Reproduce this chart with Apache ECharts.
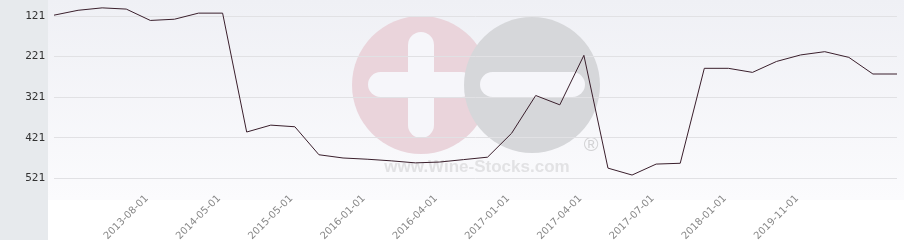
<!DOCTYPE html>
<html>
<head>
<meta charset="utf-8">
<script src="https://cdn.jsdelivr.net/npm/echarts@6/dist/echarts.min.js"></script>
<style>
html,body{margin:0;padding:0;background:#ffffff;}
#chart{width:904px;height:240px;}
</style>
</head>
<body>
<div id="chart"></div>
<script>
// x-axis tick labels (one per point, empty where the reference shows none)
const tickLabels = ['', '', '', '', '2013-08-01', '', '', '2014-05-01', '', '', '2015-05-01', '', '',
  '2016-01-01', '', '', '2016-04-01', '', '', '2017-01-01', '', '', '2017-04-01', '', '',
  '2017-07-01', '', '', '2018-01-01', '', '', '2019-11-01', '', '', '', ''];
const categories = tickLabels;
// rank values (smaller is better, axis inverted)
const rankValues = [119, 107, 101, 104, 132, 129, 114, 114, 407, 390, 394, 463, 471, 474, 478, 483,
  481, 475, 469, 410, 317, 340, 218, 496, 513, 486, 484, 250, 250, 260, 233, 217, 209, 223, 264, 264];
const yTickValues = [121, 221, 321, 421, 521];

const chart = echarts.init(document.getElementById('chart'), null, {renderer: 'canvas'});
const option = {
  animation: false,
  backgroundColor: '#ffffff',
  grid: {left: 54, right: 7, top: -24.6, bottom: 53.6, containLabel: false, outerBoundsMode: 'none'},
  graphic: [
    {type: 'rect', z: -20, shape: {x: 0, y: 0, width: 48, height: 240}, style: {fill: '#e7eaed'}},
    {type: 'rect', z: -20, shape: {x: 48, y: 0, width: 856, height: 200},
      style: {fill: new echarts.graphic.LinearGradient(0, 0, 0, 1, [
        {offset: 0, color: '#eff0f5'}, {offset: 1, color: '#fbfbfd'}])}},
    {type: 'circle', z: -10, shape: {cx: 421, cy: 85, r: 69}, style: {fill: '#ead4db'}},
    {type: 'rect', z: -9, shape: {x: 408, y: 32, width: 26, height: 106, r: 13}, style: {fill: '#f6f6fa'}},
    {type: 'rect', z: -9, shape: {x: 368, y: 72, width: 106, height: 25, r: 12.5}, style: {fill: '#f6f6fa'}},
    {type: 'circle', z: -8, shape: {cx: 532, cy: 85, r: 68}, style: {fill: '#d6d7da'}},
    {type: 'rect', z: -7, shape: {x: 480, y: 72, width: 105, height: 25, r: 12.5}, style: {fill: '#f6f6fa'}},
    {type: 'text', z: -7, style: {x: 477, y: 167, text: 'www.Wine-Stocks.com', fill: '#e2e2e4',
      font: 'bold 17px "Liberation Sans", Arial, sans-serif', textAlign: 'center', textVerticalAlign: 'middle'}},
    {type: 'text', z: -7, style: {x: 591, y: 145, text: '®', fill: '#d2d2d4',
      font: '20px "Liberation Sans", Arial, sans-serif', textAlign: 'center', textVerticalAlign: 'middle'}}
  ],
  xAxis: {
    type: 'category',
    data: categories,
    boundaryGap: false,
    axisLine: {show: false},
    axisTick: {show: false},
    splitLine: {show: false},
    axisLabel: {
      interval: 0,
      rotate: 45,
      margin: 7,
      padding: [0, 5, 0, 0],
      color: '#888888',
      fontSize: 10,
      fontFamily: '"DejaVu Sans", sans-serif'
    }
  },
  yAxis: {
    type: 'value',
    inverse: true,
    min: 21,
    max: 541,
    interval: 100,
    axisLine: {show: false},
    axisTick: {show: false},
    axisLabel: {
      showMinLabel: false,
      showMaxLabel: false,
      margin: 9,
      color: '#333333',
      fontSize: 11,
      fontFamily: '"DejaVu Sans Mono", monospace',
      formatter: function (v) { return yTickValues.indexOf(v) >= 0 ? String(v) : ''; }
    },
    splitLine: {show: true, showMinLine: false, showMaxLine: false, lineStyle: {color: '#e1e1e4', width: 1}}
  },
  series: [{
    type: 'line',
    data: rankValues,
    symbol: 'none',
    clip: false,
    lineStyle: {color: '#3a1f2c', width: 1},
    z: 5
  }]
};
chart.setOption(option);
</script>
</body>
</html>
